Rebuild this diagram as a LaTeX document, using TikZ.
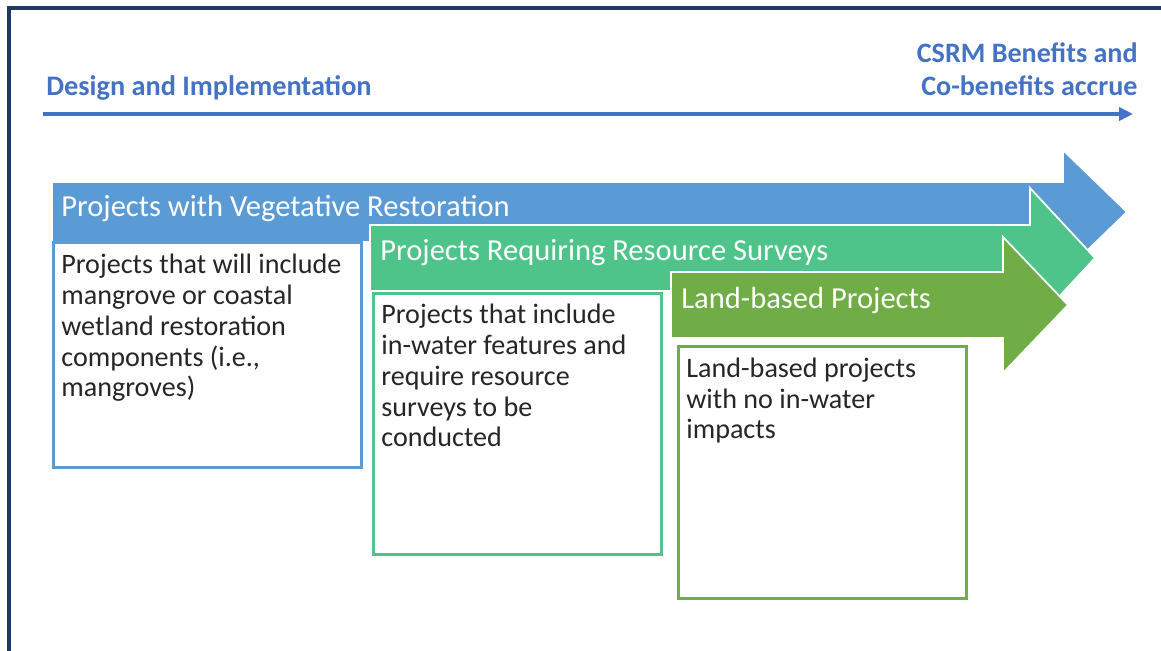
\documentclass[tikz,border=0pt]{standalone}
\usepackage{fontspec}
\setmainfont{Carlito}
\usetikzlibrary{arrows.meta}
\definecolor{titleblue}{HTML}{4472C4}
\definecolor{vegblue}{HTML}{5B9BD5}
\definecolor{surveyteal}{HTML}{4EC48B}
\definecolor{landgreen}{HTML}{70AD47}
\definecolor{framenavy}{HTML}{1F3864}
\begin{document}
\begin{tikzpicture}[x=0.02cm,y=-0.02cm,
		header/.style={anchor=base west,inner sep=0pt,text=white,font=\fontsize{17.4}{20}\selectfont},
		bodytext/.style={anchor=base west,inner sep=0pt,align=left,text=black!85,font=\fontsize{16}{17.6}\selectfont},
		stagebox/.style={draw,line width=1.6pt,fill=white,anchor=north west,inner sep=0pt}]
		\useasboundingbox (0,0) rectangle (1161,651);
		% frame
		\draw[framenavy,line width=1.8pt] (9,651) -- (9,8) -- (1161,8);
		% timeline
		\coordinate (start) at (43,114);
		\coordinate (finish) at (1133,114);
		\draw[titleblue,line width=2.2pt,-{Triangle[length=0.28cm,width=0.26cm]}] (start) -- (finish);
		\node[anchor=base west,inner sep=0pt,text=titleblue,font=\fontsize{16.1}{19.3}\selectfont\bfseries] (design) at (46,96) {Design and Implementation};
		\node[anchor=base east,inner sep=0pt,align=right,text=titleblue,font=\fontsize{16}{19.3}\selectfont\bfseries] (accrue) at (1138,96) {CSRM Benefits and\\Co-benefits accrue};
		% vegetative restoration
		\fill[vegblue,draw=white,line width=1pt] (52,182) -- (1063,182) -- (1063,150) -- (1127,212)
			-- (1063,274) -- (1063,242) -- (52,242) -- cycle;
		\node[header] (veghead) at (61,217) {Projects with Vegetative Restoration};
		\node[stagebox,draw=vegblue,minimum width=6.16cm,minimum height=4.5cm] (vegbox) at (52,241) {};
		\node[bodytext] (vegtext) at (61,397) {Projects that will include\\mangrove or coastal\\wetland restoration\\components (i.e.,\\mangroves)};
		% resource surveys
		\fill[surveyteal,draw=white,line width=1pt] (370,225) -- (1030,225) -- (1030,188) -- (1095,258)
			-- (1030,328) -- (1030,291) -- (370,291) -- cycle;
		\node[header] (surveyhead) at (380,261) {Projects Requiring Resource Surveys};
		\node[stagebox,draw=surveyteal,minimum width=5.76cm,minimum height=5.22cm] (surveybox) at (372,292) {};
		\node[bodytext] (surveytext) at (381,447) {Projects that include\\in-water features and\\require resource\\surveys to be\\conducted};
		% land-based
		\fill[landgreen,draw=white,line width=1pt] (671,272) -- (1003,272) -- (1003,237) -- (1068,305)
			-- (1003,373) -- (1003,338) -- (671,338) -- cycle;
		\node[header] (landhead) at (681,309) {Land-based Projects};
		\node[stagebox,draw=landgreen,minimum width=5.76cm,minimum height=5.04cm] (landbox) at (677,345) {};
		\node[bodytext] (landtext) at (686,439) {Land-based projects\\with no in-water\\impacts};
	\end{tikzpicture}
\end{document}
